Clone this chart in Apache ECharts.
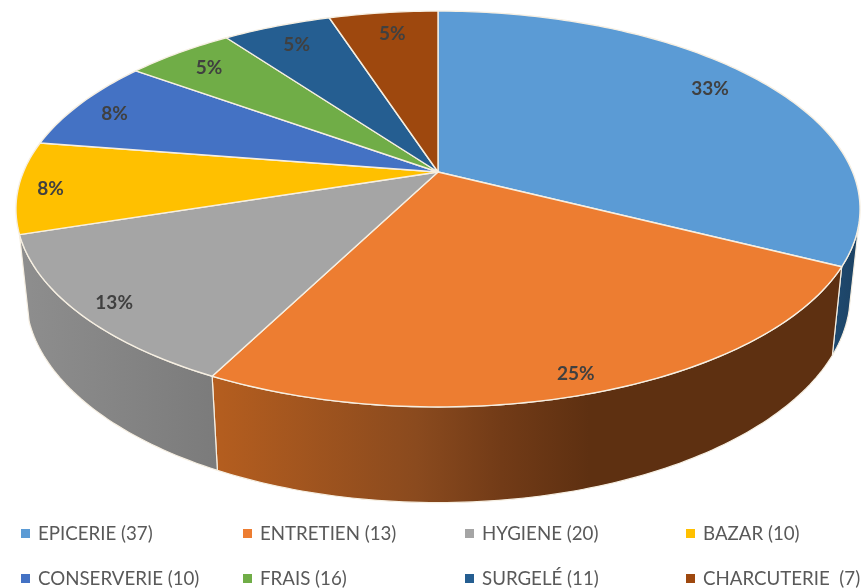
<!DOCTYPE html>
<html>
<head>
<meta charset="utf-8">
<style>
  html, body { margin: 0; padding: 0; background: #fff; }
  #chart { width: 863px; height: 588px; }
</style>
</head>
<body>
<div id="chart"></div>
<script src="https://cdn.jsdelivr.net/npm/echarts@6/dist/echarts.min.js"></script>
<script>
// data
const categories = ['EPICERIE (37)', 'ENTRETIEN (13)', 'HYGIENE (20)', 'BAZAR (10)', 'CONSERVERIE (10)', 'FRAIS (16)', 'SURGELÉ (11)', 'CHARCUTERIE  (7)'];
const values = [13, 10, 5, 3, 3, 2, 2, 2];

const colors = ['#5B9BD5', '#ED7D31', '#A5A5A5', '#FFC000', '#4472C4', '#70AD47', '#255E91', '#9E480E'];
// side wall colours, left to right (only the slices whose wall can be seen)
const wallStops = [
  [[0, '#1f4a70'], [1, '#1c4263']],
  [[0, '#b55e1f'], [0.326, '#8a4a1e'], [0.46, '#723b17'], [0.6, '#5e3011'], [1, '#5e3011']],
  [[0, '#8e8e8e'], [1, '#7b7b7b']],
  null, null, null, null, null
];
// label shift from the rim point at the middle of the slice
const labelShift = [[-50, 8], [-18, -19], [35, -10], [32, 2], [34, 10], [30, 15], [20, 19], [9, 21]];
const legendLeft = [21, 243, 465, 686];
const legendTop = [524, 569];

// projection of the tilted disc
const tilt = 0.187;
const topRing = { cx: 438, cy: 172, rx: 414.6, ry: 191 };
const bottomRing = { cx: 438, cy: 256, rx: 405, ry: 200.5 };
const wallFrom = 105, wallTo = 255; // part of the side that faces the camera, degrees
const edge = '#f6efe2';

const total = values.reduce((a, b) => a + b, 0);
const starts = [];
values.reduce((sum, v, i) => { starts[i] = sum; return sum + v; }, 0);

function project(ring, deg) {
  const a = deg * Math.PI / 180;
  const u = Math.sin(a), v = Math.cos(a);
  const w = 1 + tilt * v;
  return [ring.cx + ring.rx * u / w, ring.cy - ring.ry * v / w];
}

function arc(ring, from, to) {
  const pts = [];
  const n = Math.max(2, Math.ceil(Math.abs(to - from)));
  for (let i = 0; i <= n; i++) pts.push(project(ring, from + (to - from) * i / n));
  return pts;
}

function renderSlice(idx) {
  return function (params, api) {
    const value = api.value(0);
    const from = starts[idx] / total * 360;
    const to = from + value / total * 360;
    const children = [];

    // side wall
    const a = Math.max(from, wallFrom), b = Math.min(to, wallTo);
    if (wallStops[idx] && a < b) {
      const pts = arc(topRing, a, b).concat(arc(bottomRing, b, a));
      const xs = pts.map(p => p[0]);
      children.push({
        type: 'polygon',
        z2: 1,
        shape: { points: pts },
        style: {
          fill: new echarts.graphic.LinearGradient(Math.min(...xs), 0, Math.max(...xs), 0, wallStops[idx].map(s => ({ offset: s[0], color: s[1] })), true),
          stroke: edge,
          lineWidth: 1.2,
          lineJoin: 'round'
        }
      });
    }

    // top face
    children.push({
      type: 'polygon',
      z2: 2,
      shape: { points: [[topRing.cx, topRing.cy]].concat(arc(topRing, from, to)) },
      style: { fill: colors[idx], stroke: edge, lineWidth: 1.4, lineJoin: 'round' }
    });

    // percent label
    const rim = project(topRing, (from + to) / 2);
    children.push({
      type: 'text',
      z2: 3,
      x: rim[0] + labelShift[idx][0],
      y: rim[1] + labelShift[idx][1],
      style: {
        text: Math.round(value / total * 100) + '%',
        font: 'bold 19px Lato',
        fill: '#404040',
        align: 'center',
        verticalAlign: 'middle'
      }
    });
    return { type: 'group', children: children };
  };
}

const chart = echarts.init(document.getElementById('chart'));
chart.setOption({
  animation: false,
  backgroundColor: '#fff',
  legend: categories.map((name, i) => ({
    data: [name],
    left: legendLeft[i % 4],
    top: legendTop[Math.floor(i / 4)],
    padding: 0,
    icon: 'rect',
    itemWidth: 9,
    itemHeight: 9,
    selectedMode: false,
    textStyle: { color: '#595959', fontFamily: 'Lato', fontSize: 18.7, padding: [0, 0, 0, 3] }
  })),
  series: categories.map((name, i) => ({
    type: 'custom',
    name: name,
    coordinateSystem: 'none',
    silent: true,
    itemStyle: { color: colors[i] },
    renderItem: renderSlice(i),
    data: [[values[i]]]
  }))
});
</script>
</body>
</html>
